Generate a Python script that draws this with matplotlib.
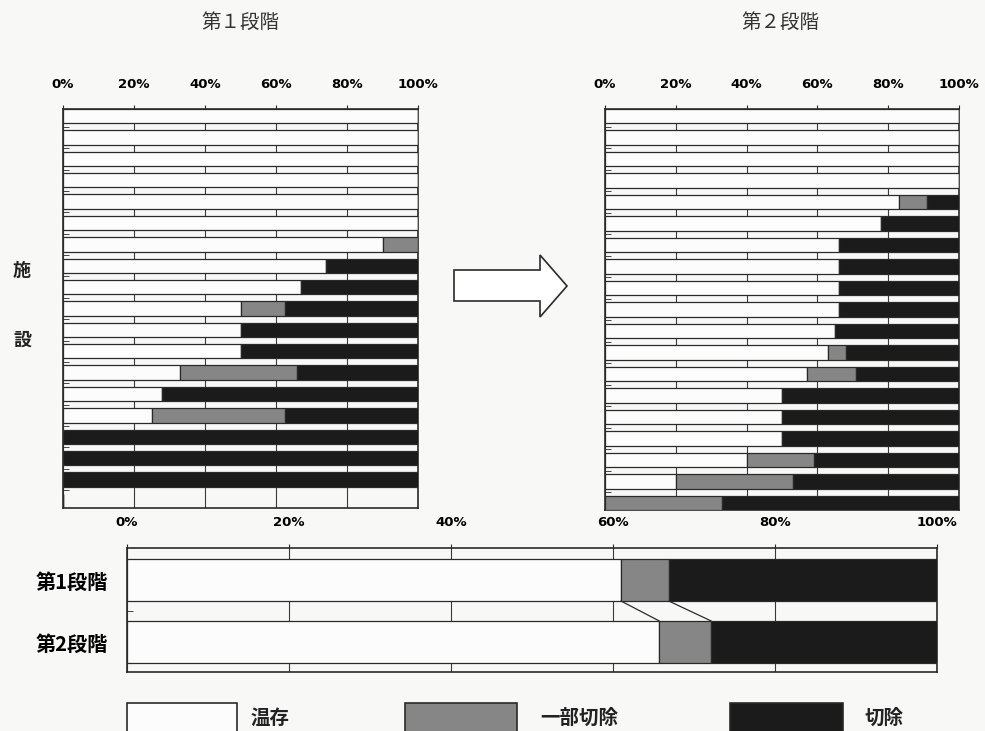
import matplotlib.pyplot as plt
import numpy as np
from matplotlib.patches import Rectangle, Polygon

plt.rcParams['font.family'] = ['Noto Sans CJK JP', 'DejaVu Sans']

# 第1段階 施設別 (%)
s1_onzon = [100, 100, 100, 100, 100, 100, 90, 74, 67, 50, 50, 50, 33, 28, 25, 0, 0, 0, 0]
s1_ichibu = [0, 0, 0, 0, 0, 0, 10, 0, 0, 12.5, 0, 0, 33, 0, 37.5, 0, 0, 0, 0]
s1_setsujo = [0, 0, 0, 0, 0, 0, 0, 26, 33, 37.5, 50, 50, 34, 72, 37.5, 100, 100, 100, 0]

# 第2段階 施設別 (%)
s2_onzon = [100, 100, 100, 100, 83, 78, 66, 66, 66, 66, 65, 63, 57, 50, 50, 50, 40, 20, 0]
s2_ichibu = [0, 0, 0, 0, 8, 0, 0, 0, 0, 0, 0, 5, 14, 0, 0, 0, 19, 33, 33]
s2_setsujo = [0, 0, 0, 0, 9, 22, 34, 34, 34, 34, 35, 32, 29, 50, 50, 50, 41, 47, 67]

# 全体
stages = ['第1段階', '第2段階']
all_onzon = [61, 65.7]
all_ichibu = [5.9, 6.4]
all_setsujo = [33.1, 27.9]

pct_ticks = [0, 20, 40, 60, 80, 100]
pct_labels = ['0%', '20%', '40%', '60%', '80%', '100%']

BG = '#f8f8f6'
WHITE = '#fcfcfc'
GRAY = '#868686'
BLACK = '#1b1b1b'
EDGE = '#2a2a2a'

W, H = 985, 731
fig = plt.figure(figsize=(W / 100, H / 100), dpi=100, facecolor=BG)


def px(x0, y0, x1, y1):
    return [x0 / W, 1 - y1 / H, (x1 - x0) / W, (y1 - y0) / H]


def stacked(ax, a, b, c, h):
    a = np.array(a, float)
    b = np.array(b, float)
    c = np.array(c, float)
    y = np.arange(len(a))
    kw = dict(height=h, edgecolor=EDGE, linewidth=0.9, zorder=3)
    ax.barh(y, a, color=WHITE, **kw)
    ax.barh(y, b, left=a, color=GRAY, **kw)
    ax.barh(y, c, left=a + b, color=BLACK, **kw)
    ax.set_xlim(0, 100)
    ax.set_facecolor(BG)
    ax.set_xticks(pct_ticks)
    ax.set_xticklabels(pct_labels, fontfamily='DejaVu Sans', fontweight='bold', fontsize=9.5)
    ax.xaxis.tick_top()
    ax.tick_params(axis='x', direction='out', length=3, pad=10, color=EDGE)
    ax.grid(axis='x', color='#3a3a3a', linewidth=0.8, zorder=1)
    ax.set_yticks(y + 0.5, minor=True)
    ax.tick_params(axis='y', which='minor', direction='in', length=4, color=EDGE)
    for s in ax.spines.values():
        s.set_linewidth(1.2)
        s.set_color(EDGE)
    return y


h = 0.67
ax1 = fig.add_axes(px(63, 109, 418, 508))
y1 = stacked(ax1, s1_onzon, s1_ichibu, s1_setsujo, h)
ax1.set_ylim(len(y1) - 1 + h / 2, -h / 2)
ax1.set_yticks([])

ax2 = fig.add_axes(px(605, 109, 959, 510))
y2 = stacked(ax2, s2_onzon, s2_ichibu, s2_setsujo, h)
ax2.set_ylim(len(y2) - 1 + h / 2, -h / 2)
ax2.set_yticks([])

# 全体の比較
hb = 0.68
ax3 = fig.add_axes(px(127, 548, 937, 672))
y3 = stacked(ax3, all_onzon, all_ichibu, all_setsujo, hb)
ax3.set_ylim(1.484, -0.516)
ax3.set_yticks(y3[:-1] + 0.5, minor=True)
ax3.set_yticks(y3)
ax3.set_yticklabels(stages, fontsize=14.5, fontweight='bold')
ax3.tick_params(axis='y', which='major', length=0, pad=14)
ax3.tick_params(axis='x', pad=11)
# 系列線
c1 = np.cumsum([all_onzon[0], all_ichibu[0]])
c2 = np.cumsum([all_onzon[1], all_ichibu[1]])
for a, b in zip(c1, c2):
    ax3.plot([a, b], [hb / 2, 1 - hb / 2], color=EDGE, linewidth=0.9, zorder=4)

# タイトル
fig.text(240 / W, 1 - 22 / H, '第１段階', ha='center', va='center', fontsize=14, color='#333333')
fig.text(780 / W, 1 - 22 / H, '第２段階', ha='center', va='center', fontsize=14, color='#333333')
fig.text(22 / W, 1 - 270 / H, '施', ha='center', va='center', fontsize=13, fontweight='bold', color='#222222')
fig.text(22 / W, 1 - 340 / H, '設', ha='center', va='center', fontsize=13, fontweight='bold', color='#222222')

# 矢印
arrow_px = [(454, 270), (540, 270), (540, 255), (567, 286), (540, 317), (540, 301), (454, 301)]
fig.add_artist(Polygon([(x / W, 1 - y / H) for x, y in arrow_px], closed=True,
                       facecolor='white', edgecolor=EDGE, linewidth=1.2, transform=fig.transFigure))

# 凡例
legend_items = [('温存', WHITE, 127, 237, 250), ('一部切除', GRAY, 405, 517, 540), ('切除', BLACK, 730, 843, 865)]
for label, col, x0, x1, tx in legend_items:
    fig.add_artist(Rectangle((x0 / W, 1 - 735 / H), (x1 - x0) / W, 32 / H, facecolor=col,
                             edgecolor=EDGE, linewidth=1.2, transform=fig.transFigure))
    fig.text(tx / W, 1 - 718 / H, label, ha='left', va='center', fontsize=14, fontweight='bold', color='#222222')

fig.savefig('out.png', dpi=100, facecolor=BG)
